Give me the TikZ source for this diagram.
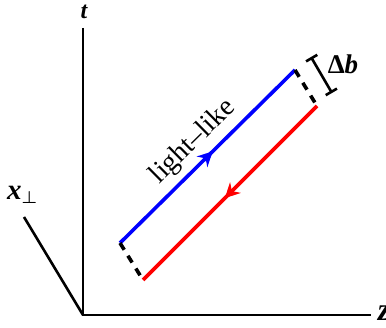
\documentclass[tikz,border=0pt]{standalone}
\usepackage{amsmath}
\usepackage{fontspec}
\setmainfont{Liberation Serif}
\usetikzlibrary{arrows.meta, decorations.markings}
\tikzset{
  axis/.style={line width=2.6pt},
  axislabel/.style={inner sep=0pt,font=\fontsize{24}{28}\selectfont\bfseries\itshape},
  worldline/.style={line width=3.6pt,postaction={decorate},
    decoration={markings,mark=at position 0.53 with {\arrow{Stealth[length=15pt,width=15pt,inset=5pt]}}}},
  gap/.style={line width=3.6pt,dash pattern=on 8pt off 7pt},
  sep/.style={line width=2.6pt,{Bar[width=13pt]}-{Bar[width=13pt]}}
}

\begin{document}
\begin{tikzpicture}[x=1pt,y=-1pt]
\useasboundingbox (0,0) rectangle (386,328);
\coordinate (O) at (83,315);
\coordinate (tEnd) at (83,28);
\coordinate (zEnd) at (371,315);
\coordinate (xEnd) at (24,217);
\coordinate (b1) at (120,243);
\coordinate (b2) at (295,70);
\coordinate (r1) at (143,280);
\coordinate (r2) at (317,106);
\coordinate (d1) at (311,57);
\coordinate (d2) at (332,93);
\node[axislabel] (tlab) at (84,12) {t};
\node[axislabel,font=\fontsize{32}{36}\selectfont\bfseries\itshape] (zlab) at (384,313) {z};
\node[axislabel,font=\fontsize{29}{32}\selectfont\bfseries\itshape] (xlab) at (22,195) {x\raisebox{-4pt}{\fontsize{16}{18}\selectfont$\boldsymbol{\perp}$}};
\node[axislabel,font=\fontsize{27}{30}\selectfont\bfseries] (blab) at (343,64) {Δ\textit{b}};
\draw[axis] (tEnd) -- (O) -- (zEnd);
\draw[axis] (O) -- (xEnd);
\draw[worldline,blue] (b1) -- node[sloped,above=5pt,inner sep=1pt,text=black,font=\fontsize{28}{32}\selectfont] (ll) {light--like} (b2);
\draw[worldline,red] (r2) -- (r1);
\draw[gap] (b1) -- (r1);
\draw[gap] (b2) -- (r2);
\draw[sep] (d1) -- (d2);
\end{tikzpicture}
\end{document}
